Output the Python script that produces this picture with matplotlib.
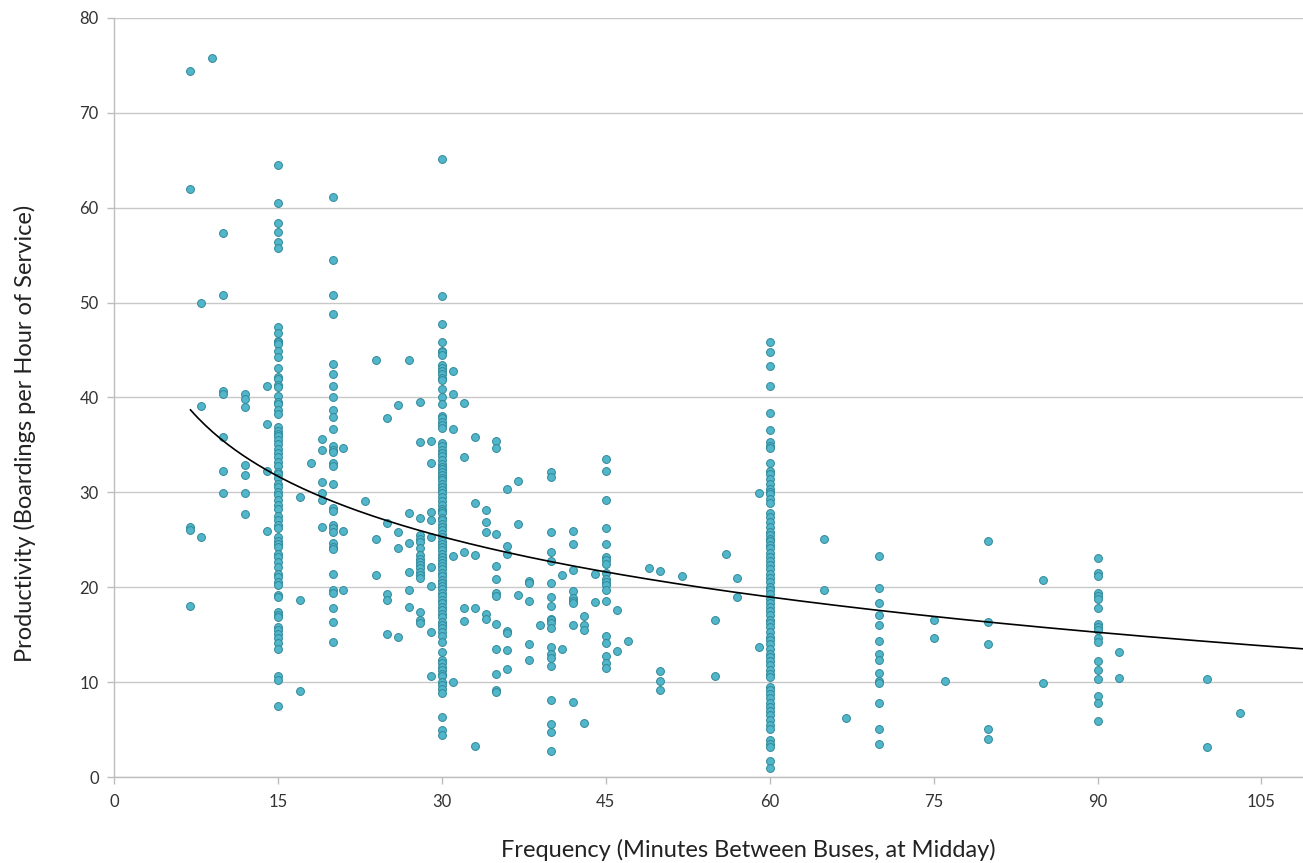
import numpy as np
import matplotlib
matplotlib.use("Agg")
import matplotlib.pyplot as plt

# ---------------- data ----------------
prod_15min = [64.5, 60.5, 58.4, 57.4, 56.4, 55.8, 47.4, 46.8, 46.0, 45.8, 45.6, 44.9,
              44.3, 43.1, 42.2, 41.9, 41.3, 41.1, 40.2, 39.5, 39.3, 38.7, 38.3, 36.9,
              36.5, 36.2, 35.9, 35.5, 35.1, 34.6, 34.1, 33.7, 33.2, 32.8, 32.2, 31.9,
              31.5, 30.9, 30.6, 30.0, 29.7, 29.2, 28.7, 28.2, 27.5, 27.1, 26.6, 26.2,
              25.3, 24.9, 24.6, 24.2, 23.5, 23.2, 22.7, 22.1, 21.4, 21.1, 20.6, 20.2,
              19.2, 19.0, 17.4, 17.1, 16.9, 15.8, 15.5, 15.1, 14.6, 14.1, 13.5, 10.6,
              10.2, 7.5]

prod_30min = [65.1, 50.7, 47.7, 45.8, 44.9, 44.8, 44.5, 43.4, 43.1, 42.8, 42.5, 42.1,
              41.8, 40.9, 40.1, 39.3, 38.1, 37.8, 37.4, 37.1, 36.8, 35.2, 34.9, 34.5,
              34.2, 33.8, 33.4, 33.0, 32.7, 32.5, 32.1, 31.8, 31.5, 31.3, 30.9, 30.6,
              30.2, 29.9, 29.5, 29.1, 28.7, 28.3, 28.0, 27.8, 27.3, 27.1, 26.7, 26.3,
              26.0, 25.6, 25.3, 24.9, 24.6, 24.2, 23.9, 23.5, 23.2, 22.9, 22.6, 22.2,
              21.9, 21.5, 21.2, 20.8, 20.5, 20.1, 19.8, 19.4, 19.1, 18.7, 18.3, 17.9,
              17.6, 17.2, 16.9, 16.3, 16.0, 15.7, 15.3, 14.9, 14.2, 13.2, 12.3, 12.0,
              11.6, 11.3, 10.9, 10.6, 10.0, 9.7, 9.3, 8.9, 6.3, 5.0, 4.4]

prod_60min = [45.8, 44.8, 43.3, 41.2, 38.4, 36.6, 35.3, 34.9, 34.7, 33.1, 32.3, 31.9,
              31.4, 30.9, 30.4, 30.0, 29.8, 29.3, 28.9, 27.8, 27.4, 26.9, 26.3, 25.8,
              25.5, 25.1, 24.9, 24.5, 24.1, 23.6, 23.2, 22.8, 22.3, 21.9, 21.4, 21.0,
              20.6, 20.0, 19.7, 19.3, 18.8, 18.3, 17.9, 17.5, 17.1, 16.5, 16.2, 15.8,
              15.3, 14.8, 14.4, 14.0, 13.5, 13.0, 12.7, 12.2, 11.8, 11.3, 10.9, 10.5,
              9.5, 9.2, 8.7, 8.3, 7.8, 7.4, 7.0, 6.5, 6.0, 5.5, 5.1, 3.9, 3.5, 3.2,
              1.7, 1.0]

prod_90min = [23.1, 21.5, 21.2, 19.4, 19.1, 18.8, 17.8, 16.1, 15.8, 15.5, 14.6, 14.2,
              12.2, 11.3, 10.3, 8.5, 7.8, 5.9]

# other routes: (frequency, productivity) pairs
other_freq = (
    [7] * 5 + [8] * 3 + [9] + [10] * 7 + [12] * 7 + [14] * 4 + [17] * 3 + [18]
    + [19] * 6 + [20] * 31 + [21] * 3 + [23] + [24] * 3 + [25] * 5 + [26] * 4
    + [27] * 6 + [28] * 18 + [29] * 9 + [31] * 5 + [32] * 5 + [33] * 5 + [34] * 5
    + [35] * 12 + [36] * 7 + [37] * 3 + [38] * 5 + [39] + [40] * 20 + [41] * 2
    + [42] * 9 + [43] * 4 + [44] * 2 + [45] * 19 + [46] * 2 + [47] + [49]
    + [50] * 4 + [52] + [55] * 2 + [56] + [57] * 2 + [59] * 2 + [65] * 2 + [67]
    + [70] * 14 + [75] * 2 + [76] + [80] * 5 + [85] * 2 + [92] * 2 + [100] * 2
    + [103]
)
other_prod = (
    [74.4, 62.0, 26.3, 26.0, 18.0]
    + [50.0, 39.1, 25.3]
    + [75.8]
    + [57.3, 50.8, 40.7, 40.4, 35.8, 32.3, 29.9]
    + [40.4, 39.8, 39.0, 32.9, 31.8, 29.9, 27.7]
    + [41.2, 37.2, 32.3, 25.9]
    + [29.5, 18.7, 9.1]
    + [33.1]
    + [35.6, 34.5, 31.1, 29.9, 29.2, 26.4]
    + [61.1, 54.5, 50.8, 48.8, 43.5, 42.5, 41.2, 40.0, 38.7, 37.9, 36.7, 34.9,
       34.5, 34.3, 33.1, 32.8, 30.9, 28.4, 28.0, 26.6, 26.2, 25.8, 24.7, 24.2,
       24.0, 21.4, 19.7, 19.4, 17.8, 16.3, 14.2]
    + [34.7, 25.9, 19.7]
    + [29.1]
    + [44.0, 25.1, 21.3]
    + [37.8, 26.8, 19.3, 18.7, 15.1]
    + [39.2, 25.8, 24.1, 14.8]
    + [43.9, 27.8, 24.7, 21.6, 19.7, 17.9]
    + [39.5, 35.3, 27.3, 25.5, 25.1, 24.8, 24.1, 23.4, 23.0, 22.7, 22.3, 22.0,
       21.6, 21.3, 21.0, 17.4, 16.5, 16.2]
    + [35.4, 33.1, 27.9, 27.1, 25.3, 22.1, 20.1, 15.3, 10.6]
    + [42.8, 40.4, 36.7, 23.3, 10.0]
    + [39.4, 33.7, 23.7, 17.8, 16.4]
    + [35.8, 28.9, 23.4, 17.8, 3.3]
    + [28.1, 26.9, 25.8, 17.2, 16.7]
    + [35.4, 34.7, 25.6, 22.2, 20.9, 19.4, 19.1, 16.1, 13.5, 10.9, 9.2, 9.0]
    + [30.4, 24.3, 23.5, 15.4, 15.2, 13.4, 11.4]
    + [31.2, 26.7, 19.2]
    + [20.7, 20.5, 18.6, 14.0, 12.3]
    + [16.0]
    + [32.1, 31.6, 25.8, 23.7, 22.8, 20.5, 19.0, 18.0, 16.7, 16.5, 16.2, 15.7,
       13.7, 13.0, 12.5, 11.7, 8.1, 5.6, 4.7, 2.7]
    + [21.3, 13.5]
    + [25.9, 24.6, 21.8, 19.6, 18.9, 18.6, 18.3, 16.0, 7.9]
    + [17.0, 16.0, 15.5, 5.7]
    + [21.4, 18.4]
    + [33.5, 32.3, 29.2, 26.2, 24.6, 23.2, 22.9, 22.5, 21.5, 20.9, 20.6, 20.2,
       19.7, 18.5, 14.9, 14.1, 12.8, 12.0, 11.5]
    + [17.6, 13.3]
    + [14.3]
    + [22.0]
    + [21.7, 11.2, 10.1, 9.2]
    + [21.2]
    + [16.5, 10.6]
    + [23.5]
    + [21.0, 19.0]
    + [29.9, 13.7]
    + [25.1, 19.7]
    + [6.2]
    + [23.3, 19.9, 18.3, 17.1, 16.0, 14.3, 13.0, 12.3, 11.0, 10.1, 9.9, 7.8, 5.1, 3.5]
    + [16.5, 14.7]
    + [10.1]
    + [24.9, 16.3, 14.0, 5.1, 4.0]
    + [20.8, 9.9]
    + [13.2, 10.4]
    + [10.3, 3.2]
    + [6.7]
)

# logarithmic trend line: y = a + b * ln(x)
trend_a = 56.56
trend_b = -9.18
trend_start = 7

x_ticks = [0, 15, 30, 45, 60, 75, 90, 105]
y_ticks = [0, 10, 20, 30, 40, 50, 60, 70, 80]
x_label = "Frequency (Minutes Between Buses, at Midday)"
y_label = "Productivity (Boardings per Hour of Service)"

# ---------------- assemble ----------------
freq = np.concatenate([
    np.full(len(prod_15min), 15), np.full(len(prod_30min), 30),
    np.full(len(prod_60min), 60), np.full(len(prod_90min), 90),
    np.array(other_freq)])
prod = np.concatenate([prod_15min, prod_30min, prod_60min, prod_90min, other_prod])

plt.rcParams['font.family'] = ['Lato', 'DejaVu Sans']

W, H = 1303, 863
fig = plt.figure(figsize=(W / 100, H / 100), dpi=100)
ax = fig.add_axes([114 / W, 86 / H, 1 - 114 / W, (777 - 18) / H])

ax.set_xlim(0, 108.8)
ax.set_ylim(0, 80)

ax.yaxis.grid(True, color='#c8c8c8', linewidth=1.0)
ax.set_axisbelow(True)

ax.scatter(freq, prod, s=32, facecolor='#52b6ca', edgecolor='#2f8899',
           linewidth=0.7, zorder=3)

xt = np.linspace(trend_start, 108.8, 300)
ax.plot(xt, trend_a + trend_b * np.log(xt), color='black', linewidth=1.2, zorder=4)

ax.set_xticks(x_ticks)
ax.set_yticks(y_ticks)
for s in ['top', 'right']:
    ax.spines[s].set_visible(False)
for s in ['left', 'bottom']:
    ax.spines[s].set_color('#bdbdbd')
    ax.spines[s].set_linewidth(1.0)
ax.tick_params(axis='both', colors='#bdbdbd', labelcolor='#333333',
               labelsize=12, length=5, width=1)
ax.tick_params(axis='x', pad=7)
ax.tick_params(axis='y', pad=6)

fig.text(748 / W, 1 - 850 / H, x_label, fontsize=17, color='#222222',
         ha='center', va='center')
fig.text(25 / W, 1 - 433 / H, y_label, fontsize=17, color='#222222',
         ha='center', va='center', rotation=90)

fig.savefig("out.png", dpi=100)
